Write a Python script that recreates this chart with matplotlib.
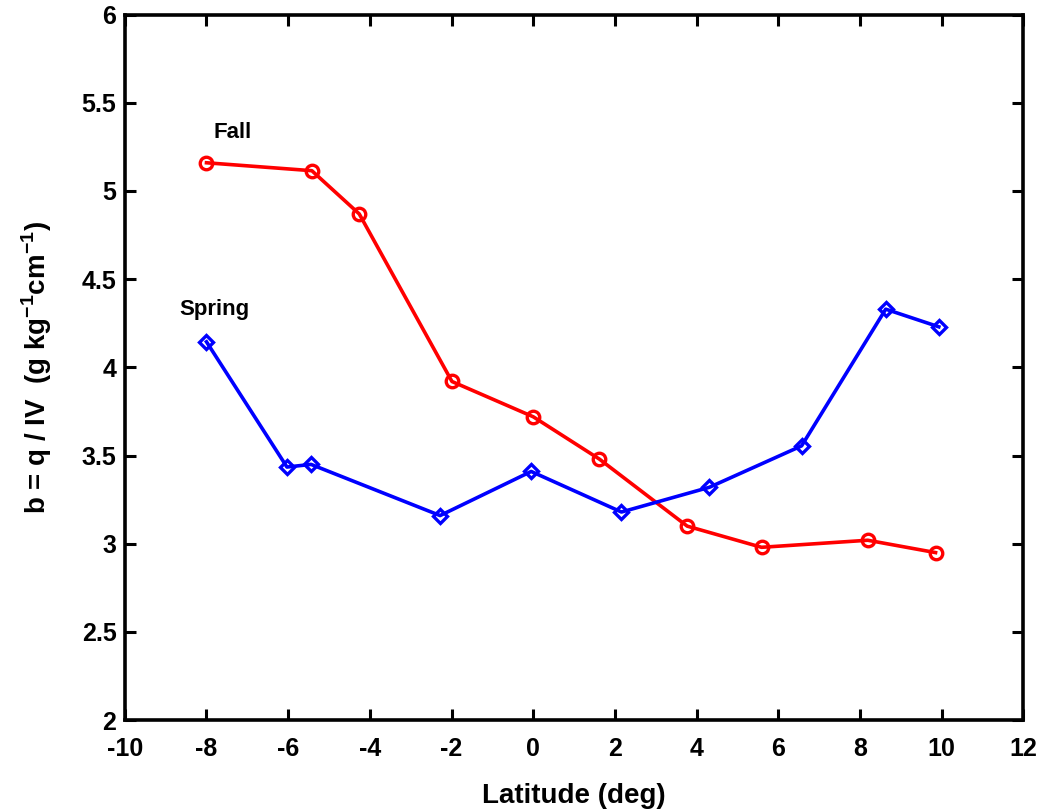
import matplotlib
matplotlib.use("Agg")
import matplotlib.pyplot as plt

# values
fall_lat = [-8.0, -5.42, -4.26, -1.99, 0.0, 1.62, 3.77, 5.59, 8.19, 9.85]
fall_b = [5.16, 5.115, 4.87, 3.92, 3.72, 3.48, 3.10, 2.98, 3.02, 2.95]

spring_lat = [-8.0, -6.03, -5.44, -2.28, -0.05, 2.16, 4.31, 6.57, 8.63, 9.93]
spring_b = [4.145, 3.435, 3.45, 3.16, 3.41, 3.18, 3.32, 3.555, 4.33, 4.23]

xticks = list(range(-10, 13, 2))
yticks = [2, 2.5, 3, 3.5, 4, 4.5, 5, 5.5, 6]
ytick_labels = ["2", "2.5", "3", "3.5", "4", "4.5", "5", "5.5", "6"]


def main():
    plt.rcParams["font.family"] = ["Liberation Sans", "DejaVu Sans"]
    plt.rcParams["axes.unicode_minus"] = False
    plt.rcParams["mathtext.fontset"] = "custom"
    plt.rcParams["mathtext.bf"] = "Liberation Sans:bold"
    plt.rcParams["mathtext.rm"] = "Liberation Sans:bold"
    fig = plt.figure(figsize=(10.4, 8.11), dpi=100)
    ax = fig.add_axes([0.120, 0.112, 0.864, 0.870])

    ax.plot(fall_lat, fall_b, color="#ff0000", lw=2.6, marker="o",
            ms=9, mfc="none", mec="#ff0000", mew=2.4)
    ax.plot(spring_lat, spring_b, color="#0000ff", lw=2.6, marker="D",
            ms=7, mfc="none", mec="#0000ff", mew=2.4)

    ax.text(-7.35, 5.33, "Fall", fontsize=16, ha="center", va="center",
            fontweight="semibold")
    ax.text(-7.8, 4.33, "Spring", fontsize=16, ha="center", va="center",
            fontweight="semibold")

    ax.set_xlim(-10, 12)
    ax.set_ylim(2, 6)
    ax.set_xticks(xticks)
    ax.set_yticks(yticks)
    ax.set_yticklabels(ytick_labels)
    ax.tick_params(direction="in", length=8, width=2.2, top=True, right=True,
                   labelsize=18)
    ax.tick_params(axis="x", pad=12)
    ax.tick_params(axis="y", pad=6)
    for lab in ax.get_xticklabels() + ax.get_yticklabels():
        lab.set_fontweight("bold")
    for sp in ax.spines.values():
        sp.set_linewidth(2.6)

    ax.set_xlabel("Latitude (deg)", fontsize=20, fontweight="bold", labelpad=16)
    ax.set_ylabel(r"b = q / IV  (g kg$^{-1}$cm$^{-1}$)",
                  fontsize=20, fontweight="bold", labelpad=20)

    fig.savefig("out.png", dpi=100)


if __name__ == "__main__":
    main()
